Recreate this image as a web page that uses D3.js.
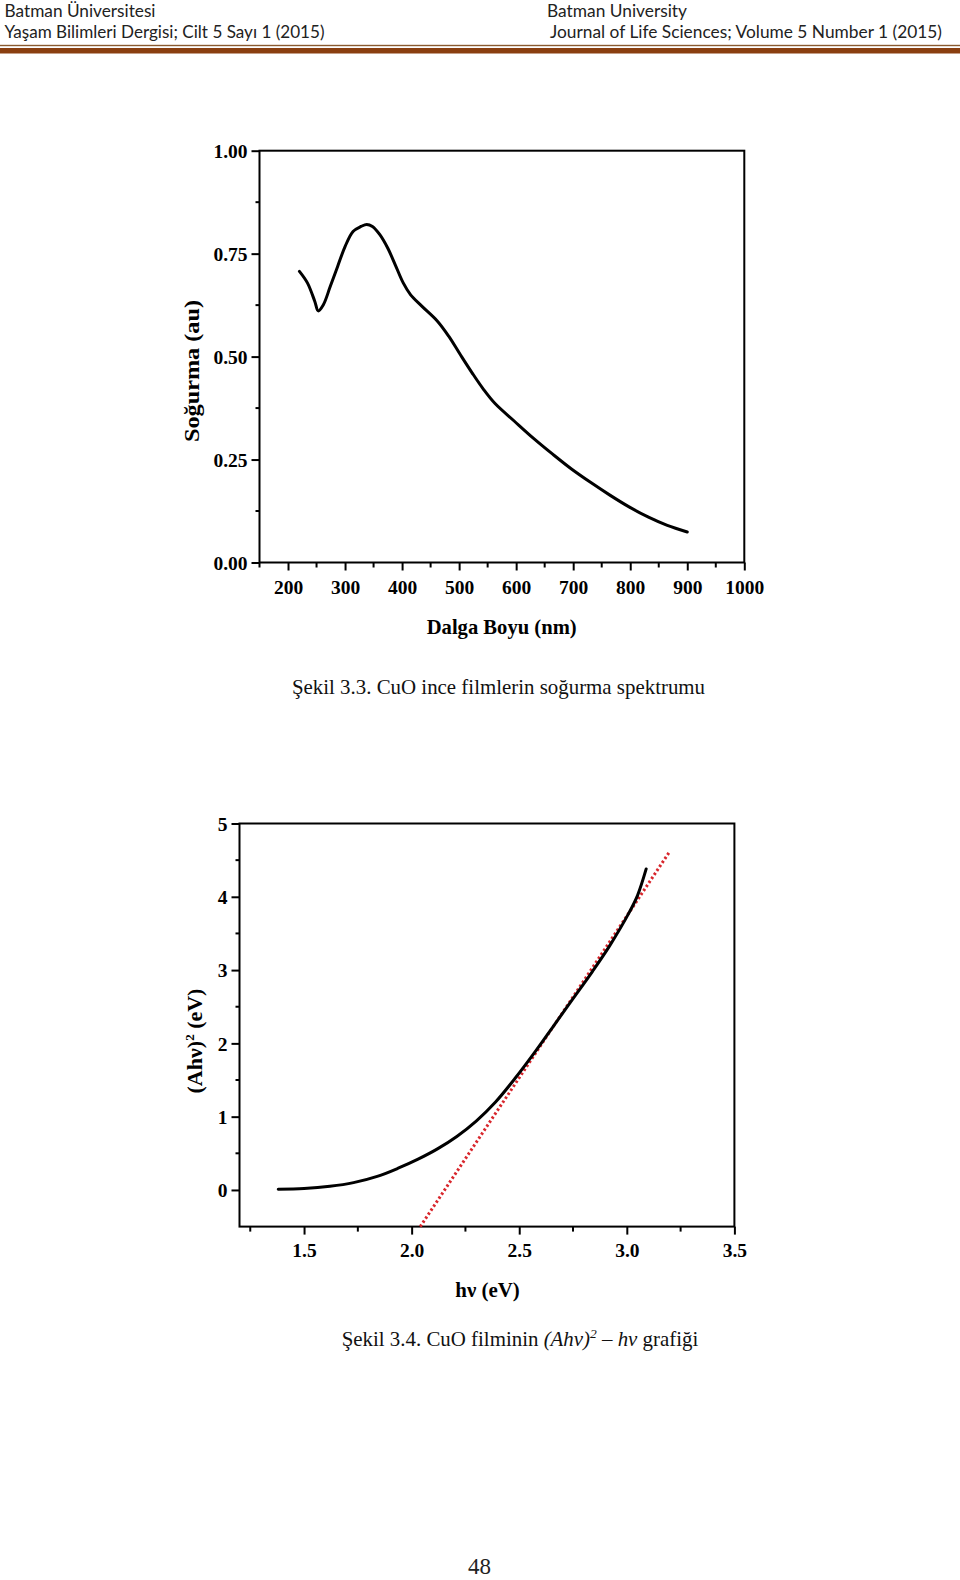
<!DOCTYPE html>
<html>
<head>
<meta charset="utf-8">
<script src="https://cdn.jsdelivr.net/npm/d3@7"></script>
<style>
html,body{margin:0;padding:0;background:#fff;}
svg{display:block;}
</style>
</head>
<body>
<svg id="page" width="960" height="1580"></svg>
<script>
// ---------- Data ----------
// Figure 3.3: absorption spectrum
const wavelength = [220,234,247,253,262,274,287,300,314,328,338,348,361,375,388,402,415,435,462,482,502,523,543,563,597,630,664,697,731,765,798,832,865,900];
const absorbance = [0.707,0.679,0.634,0.611,0.626,0.670,0.719,0.767,0.804,0.816,0.821,0.816,0.796,0.763,0.723,0.679,0.650,0.622,0.586,0.549,0.505,0.460,0.420,0.386,0.343,0.302,0.263,0.227,0.194,0.163,0.135,0.110,0.090,0.074];
const xTicks1 = [200,300,400,500,600,700,800,900,1000];
const xMinor1 = [150,250,350,450,550,650,750,850,950];
const yTicks1 = [0,0.25,0.5,0.75,1.0];
const yMinor1 = [0.125,0.375,0.625,0.875];

// Figure 3.4: (Ahv)^2 vs hv
const photonEnergy = [1.38,1.50,1.62,1.73,1.84,1.94,2.03,2.12,2.21,2.30,2.39,2.48,2.57,2.66,2.75,2.84,2.92,3.01,3.05,3.09];
const ahv2 = [0.01,0.02,0.05,0.10,0.185,0.30,0.42,0.56,0.73,0.94,1.20,1.52,1.87,2.24,2.61,2.98,3.33,3.78,4.02,4.38];
const fitX = [2.04,3.20];
const fitY = [-0.5,4.62];
const xTicks2 = [1.5,2.0,2.5,3.0,3.5];
const xMinor2 = [1.25,1.75,2.25,2.75,3.25];
const yTicks2 = [0,1,2,3,4,5];
const yMinor2 = [0.5,1.5,2.5,3.5,4.5];

// ---------- Page ----------
const svg = d3.select('#page');
const serif = "'Liberation Serif','Times New Roman',serif";
const sans = "Lato,'Open Sans',sans-serif";

// header
const hdr = [
  {t:'Batman Üniversitesi', x:4.5, y:17.3, w:151},
  {t:'Yaşam Bilimleri Dergisi; Cilt 5 Sayı 1 (2015)', x:4.5, y:38.3, w:320},
  {t:'Batman University', x:547, y:17.3, w:140},
  {t:'Journal of Life Sciences; Volume 5 Number 1 (2015)', x:550, y:38.3, w:392}
];
svg.selectAll('text.hdr').data(hdr).join('text')
  .attr('class','hdr')
  .attr('x',d=>d.x).attr('y',d=>d.y)
  .attr('textLength',d=>d.w).attr('lengthAdjust','spacingAndGlyphs')
  .style('font-family',sans).style('font-size','17.5px').style('fill','#222')
  .text(d=>d.t);
svg.append('rect').attr('x',0).attr('y',44.8).attr('width',960).attr('height',1.4).attr('fill','#8a5a30');
svg.append('rect').attr('x',0).attr('y',48).attr('width',960).attr('height',5.5).attr('fill','#8a3f10');

function minorTicks(g, scale, vals, orient, len){
  vals.forEach(v=>{
    if(orient==='left') g.append('line').attr('x1',-len).attr('x2',0).attr('y1',scale(v)).attr('y2',scale(v));
    else g.append('line').attr('y1',0).attr('y2',len).attr('x1',scale(v)).attr('x2',scale(v));
  });
  g.selectAll('line').attr('stroke','#000').attr('stroke-width',2);
}

// ---------- Chart 1 ----------
{
  const x = d3.scaleLinear().domain([150,1000]).range([259.5,744.3]);
  const y = d3.scaleLinear().domain([0,1]).range([562.5,150.7]);
  const g = svg.append('g');

  g.append('rect').attr('x',x(150)).attr('y',y(1)).attr('width',x(1000)-x(150)).attr('height',y(0)-y(1))
    .attr('fill','none').attr('stroke','#000').attr('stroke-width',2);

  const ax = g.append('g').attr('transform',`translate(0,${y(0)})`)
    .call(d3.axisBottom(x).tickValues(xTicks1).tickSize(8).tickPadding(6).tickFormat(d3.format('d')));
  ax.select('.domain').remove();
  ax.selectAll('line').attr('stroke-width',2);
  ax.selectAll('text').attr('y',31).attr('dy',0)
    .style('font-family',serif).style('font-weight','bold').style('font-size','19.5px');
  minorTicks(g.append('g').attr('transform',`translate(0,${y(0)})`), x, xMinor1, 'bottom', 5);

  const ay = g.append('g').attr('transform',`translate(${x(150)},0)`)
    .call(d3.axisLeft(y).tickValues(yTicks1).tickSize(8).tickPadding(4).tickFormat(d3.format('.2f')));
  ay.select('.domain').remove();
  ay.selectAll('line').attr('stroke-width',2);
  ay.selectAll('text').attr('dy','0.34em')
    .style('font-family',serif).style('font-weight','bold').style('font-size','19.5px');
  minorTicks(g.append('g').attr('transform',`translate(${x(150)},0)`), y, yMinor1, 'left', 4);

  const line = d3.line().x((d,i)=>x(wavelength[i])).y(d=>y(d)).curve(d3.curveCatmullRom.alpha(0.5));
  g.append('path').attr('d',line(absorbance)).attr('fill','none').attr('stroke','#000')
    .attr('stroke-width',3).attr('stroke-linejoin','round').attr('stroke-linecap','round');

  g.append('text').attr('x',501.7).attr('y',634)
    .attr('text-anchor','middle').attr('textLength',150).attr('lengthAdjust','spacingAndGlyphs')
    .style('font-family',serif).style('font-weight','bold').style('font-size','22px')
    .text('Dalga Boyu (nm)');
  g.append('text').attr('transform','translate(198.5,371) rotate(-90)')
    .attr('text-anchor','middle').attr('textLength',142).attr('lengthAdjust','spacingAndGlyphs')
    .style('font-family',serif).style('font-weight','bold').style('font-size','22px')
    .text('Soğurma (au)');
}

// caption 1
svg.append('text').attr('x',498.5).attr('y',694).attr('text-anchor','middle')
  .style('font-family',serif).style('font-size','20.9px').style('fill','#111')
  .text('Şekil 3.3. CuO ince filmlerin soğurma spektrumu');

// ---------- Chart 2 ----------
{
  const x = d3.scaleLinear().domain([1.2,3.5]).range([239.5,734.4]);
  const y = d3.scaleLinear().domain([-0.5,5]).range([1226.6,823.5]);
  const g = svg.append('g');

  g.append('rect').attr('x',x(1.2)).attr('y',y(5)).attr('width',x(3.5)-x(1.2)).attr('height',y(-0.5)-y(5))
    .attr('fill','none').attr('stroke','#000').attr('stroke-width',2);

  const ax = g.append('g').attr('transform',`translate(0,${y(-0.5)})`)
    .call(d3.axisBottom(x).tickValues(xTicks2).tickSize(8).tickPadding(6).tickFormat(d3.format('.1f')));
  ax.select('.domain').remove();
  ax.selectAll('line').attr('stroke-width',2);
  ax.selectAll('text').attr('y',30).attr('dy',0)
    .style('font-family',serif).style('font-weight','bold').style('font-size','19.5px');
  minorTicks(g.append('g').attr('transform',`translate(0,${y(-0.5)})`), x, xMinor2, 'bottom', 5);

  const ay = g.append('g').attr('transform',`translate(${x(1.2)},0)`)
    .call(d3.axisLeft(y).tickValues(yTicks2).tickSize(8).tickPadding(4).tickFormat(d3.format('d')));
  ay.select('.domain').remove();
  ay.selectAll('line').attr('stroke-width',2);
  ay.selectAll('text').attr('dy','0.34em')
    .style('font-family',serif).style('font-weight','bold').style('font-size','19.5px');
  minorTicks(g.append('g').attr('transform',`translate(${x(1.2)},0)`), y, yMinor2, 'left', 4);

  const fit = d3.line().x((d,i)=>x(fitX[i])).y(d=>y(d));
  g.append('path').attr('d',fit(fitY)).attr('fill','none').attr('stroke','#d8262c')
    .attr('stroke-width',3).attr('stroke-dasharray','2.4,2.4');

  const line = d3.line().x((d,i)=>x(photonEnergy[i])).y(d=>y(d)).curve(d3.curveCatmullRom.alpha(0.5));
  g.append('path').attr('d',line(ahv2)).attr('fill','none').attr('stroke','#000')
    .attr('stroke-width',3).attr('stroke-linejoin','round').attr('stroke-linecap','round');

  g.append('text').attr('x',487.5).attr('y',1297)
    .attr('text-anchor','middle').attr('textLength',64.5).attr('lengthAdjust','spacingAndGlyphs')
    .style('font-family',serif).style('font-weight','bold').style('font-size','22px')
    .text('hν (eV)');
  const yt = g.append('text').attr('transform','translate(201.5,1041) rotate(-90)')
    .attr('text-anchor','middle')
    .style('font-family',serif).style('font-weight','bold').style('font-size','22px');
  yt.append('tspan').text('(Ahν)');
  yt.append('tspan').attr('dy',-8).style('font-size','13px').text('2');
  yt.append('tspan').attr('dy',8).text(' (eV)');
}

// caption 2
{
  const t = svg.append('text').attr('x',520).attr('y',1346).attr('text-anchor','middle')
    .style('font-family',serif).style('font-size','20.9px').style('fill','#111');
  t.append('tspan').text('Şekil 3.4. CuO filminin ');
  t.append('tspan').style('font-style','italic').text('(Ahv)');
  t.append('tspan').attr('dy',-8).style('font-size','13.5px').style('font-style','italic').text('2');
  t.append('tspan').attr('dy',8).text(' – ');
  t.append('tspan').style('font-style','italic').text('hv');
  t.append('tspan').text(' grafiği');
}

// page number
svg.append('text').attr('x',479.5).attr('y',1574).attr('text-anchor','middle')
  .style('font-family',serif).style('font-size','23px').style('fill','#222').text('48');
</script>
</body>
</html>
